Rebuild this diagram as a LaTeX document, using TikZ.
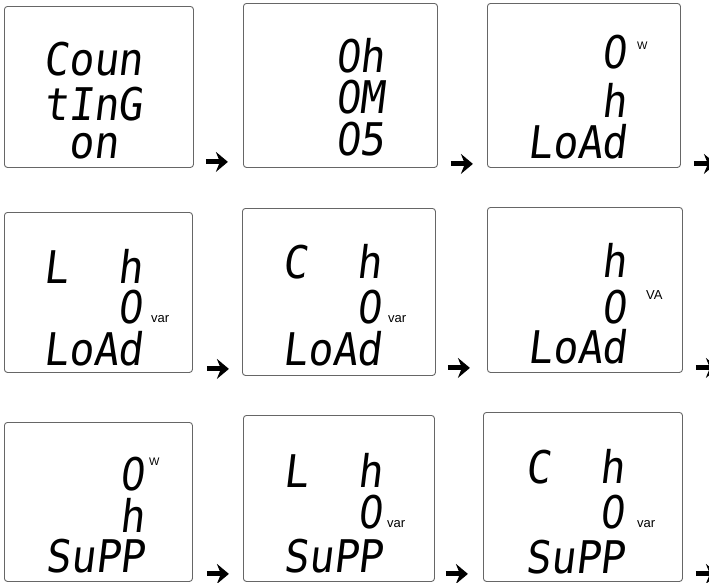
\documentclass[tikz,border=0pt]{standalone}
\usepackage{fontspec}
\setmainfont{Liberation Sans}
\newfontfamily\lcdfont{DejaVu Sans Mono}[FakeStretch=0.92,FakeSlant=0.12]
\newfontfamily\lcdzero{DejaVu Sans}[FakeStretch=0.87,FakeSlant=0.12]
\usetikzlibrary{arrows.meta}
\newcommand{\blank}{\phantom{0}}
\newcommand{\cero}{{\lcdzero 0}}
\tikzset{
  panel/.style={rectangle, rounded corners=3pt, draw=black!60, line width=0.9pt, anchor=north west, inner sep=0pt},
  lcd/.style={anchor=base west, inner sep=0pt, text height=33pt, text depth=0pt, font=\lcdfont\fontsize{45}{45}\selectfont},
  unit/.style={anchor=base west, inner sep=0pt, font=\fontsize{13}{13}\selectfont},
  flecha/.style={-{Stealth[length=12pt,width=20pt,inset=4pt]}, line width=5pt}
}
\begin{document}
\begin{tikzpicture}[x=1pt, y=-1pt]
            \useasboundingbox (0,0) rectangle (709,582);

            % Fila 1
            \node[panel, minimum width=189pt, minimum height=161pt] (p1) at (4,6) {};
            \node[lcd] (p1a) at ([shift={(39,69)}]p1.north west) {Coun};
            \node[lcd] (p1b) at ([shift={(39,114)}]p1.north west) {tInG};
            \node[lcd] (p1c) at ([shift={(39,152)}]p1.north west) {\blank on};

            \node[panel, minimum width=194pt, minimum height=164pt] (p2) at (243,3) {};
            \node[lcd] (p2a) at ([shift={(42,69)}]p2.north west) {\blank\blank\cero h};
            \node[lcd] (p2b) at ([shift={(42,110)}]p2.north west) {\blank\blank\cero M};
            \node[lcd] (p2c) at ([shift={(42,152)}]p2.north west) {\blank\blank\cero 5};

            \node[panel, minimum width=193pt, minimum height=164pt] (p3) at (487,3) {};
            \node[lcd] (p3a) at ([shift={(40,65)}]p3.north west) {\blank\blank\blank\cero};
            \node[unit, font=\fontsize{11}{11}\selectfont] (p3u) at ([shift={(150,46)}]p3.north west) {W};
            \node[lcd] (p3b) at ([shift={(40,114)}]p3.north west) {\blank\blank\blank h};
            \node[lcd] (p3c) at ([shift={(40,155)}]p3.north west) {LoAd};

            % Fila 2
            \node[panel, minimum width=188pt, minimum height=160pt] (p4) at (4,212) {};
            \node[lcd] (p4a) at ([shift={(39,71)}]p4.north west) {L\blank\blank h};
            \node[lcd] (p4b) at ([shift={(39,111)}]p4.north west) {\blank\blank\blank\cero};
            \node[unit] (p4u) at ([shift={(147,110)}]p4.north west) {var};
            \node[lcd] (p4c) at ([shift={(39,153)}]p4.north west) {LoAd};

            \node[panel, minimum width=193pt, minimum height=167pt] (p5) at (242,208) {};
            \node[lcd] (p5a) at ([shift={(40,70)}]p5.north west) {C\blank\blank h};
            \node[lcd] (p5b) at ([shift={(40,115)}]p5.north west) {\blank\blank\blank\cero};
            \node[unit] (p5u) at ([shift={(146,114)}]p5.north west) {var};
            \node[lcd] (p5c) at ([shift={(40,157)}]p5.north west) {LoAd};

            \node[panel, minimum width=195pt, minimum height=165pt] (p6) at (487,207) {};
            \node[lcd] (p6a) at ([shift={(40,70)}]p6.north west) {\blank\blank\blank h};
            \node[lcd] (p6b) at ([shift={(40,116)}]p6.north west) {\blank\blank\blank\cero};
            \node[unit, font=\fontsize{13}{13}\selectfont] (p6u) at ([shift={(159,92)}]p6.north west) {VA};
            \node[lcd] (p6c) at ([shift={(40,156)}]p6.north west) {LoAd};

            % Fila 3
            \node[panel, minimum width=188pt, minimum height=159pt] (p7) at (4,422) {};
            \node[lcd] (p7a) at ([shift={(41,68)}]p7.north west) {\blank\blank\blank\cero};
            \node[unit, font=\fontsize{11}{11}\selectfont] (p7u) at ([shift={(145,43)}]p7.north west) {W};
            \node[lcd] (p7b) at ([shift={(41,110)}]p7.north west) {\blank\blank\blank h};
            \node[lcd] (p7c) at ([shift={(41,150)}]p7.north west) {SuPP};

            \node[panel, minimum width=191pt, minimum height=166pt] (p8) at (243,415) {};
            \node[lcd] (p8a) at ([shift={(40,72)}]p8.north west) {L\blank\blank h};
            \node[lcd] (p8b) at ([shift={(40,113)}]p8.north west) {\blank\blank\blank\cero};
            \node[unit] (p8u) at ([shift={(144,112)}]p8.north west) {var};
            \node[lcd] (p8c) at ([shift={(40,157)}]p8.north west) {SuPP};

            \node[panel, minimum width=199pt, minimum height=169pt] (p9) at (483,412) {};
            \node[lcd] (p9a) at ([shift={(42,71)}]p9.north west) {C\blank\blank h};
            \node[lcd] (p9b) at ([shift={(42,116)}]p9.north west) {\blank\blank\blank\cero};
            \node[unit] (p9u) at ([shift={(154,115)}]p9.north west) {var};
            \node[lcd] (p9c) at ([shift={(42,161)}]p9.north west) {SuPP};

            % Flechas
            \draw[flecha] ([shift={(12,-6)}]p1.south east) -- ++(22,0);
            \draw[flecha] ([shift={(13,-4)}]p2.south east) -- ++(22,0);
            \draw[flecha] ([shift={(13,-4)}]p3.south east) -- ++(22,0);
            \draw[flecha] ([shift={(14,-4)}]p4.south east) -- ++(22,0);
            \draw[flecha] ([shift={(12,-8)}]p5.south east) -- ++(22,0);
            \draw[flecha] ([shift={(13,-5)}]p6.south east) -- ++(22,0);
            \draw[flecha] ([shift={(14,-8)}]p7.south east) -- ++(22,0);
            \draw[flecha] ([shift={(11,-8)}]p8.south east) -- ++(22,0);
            \draw[flecha] ([shift={(13,-8)}]p9.south east) -- ++(22,0);

\end{tikzpicture}
\end{document}
